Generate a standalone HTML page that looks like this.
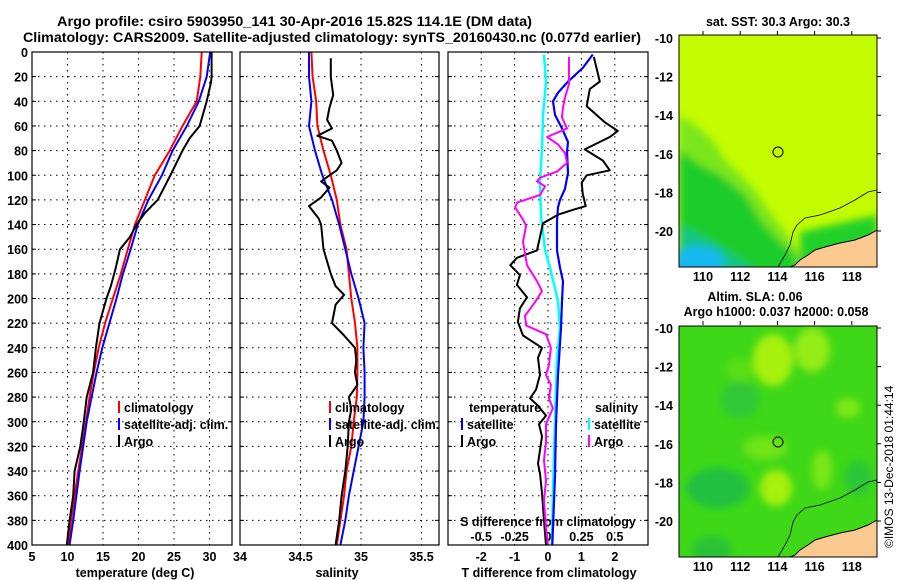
<!DOCTYPE html>
<html><head><meta charset="utf-8"><title>Argo profile</title>
<style>
html,body{margin:0;padding:0;background:#fff;}
svg{display:block;font-family:"Liberation Sans",Arial,sans-serif;font-weight:bold;}
</style></head>
<body>
<svg id="chart" width="900" height="580" viewBox="0 0 900 580" xmlns="http://www.w3.org/2000/svg">
<defs>
<filter id="blur3" x="-20%" y="-20%" width="140%" height="140%"><feGaussianBlur stdDeviation="4"/></filter>
<clipPath id="clipMap1"><rect x="679" y="35" width="198" height="232"/></clipPath>
<clipPath id="clipMap2"><rect x="679" y="326" width="198" height="231"/></clipPath>
</defs>
<text x="57" y="26" font-size="14" textLength="475" lengthAdjust="spacingAndGlyphs">Argo profile: csiro 5903950_141 30-Apr-2016 15.82S 114.1E (DM data)</text>
<text x="23" y="42" font-size="14" textLength="618" lengthAdjust="spacingAndGlyphs">Climatology: CARS2009. Satellite-adjusted climatology: synTS_20160430.nc (0.077d earlier)</text>
<g id="plots"></g>
<g id="maps">
  <!-- map 1: SST -->
  <g clip-path="url(#clipMap1)">
    <rect x="679" y="35" width="198" height="232" fill="#c4fc00"/>
    <g filter="url(#blur3)">
      <polygon points="679,115 695,125 712,140 725,160 738,172 755,190 772,215 790,238 805,262 820,280 679,280" fill="#7ae61a"/>
      <polygon points="679,150 700,165 720,175 745,195 760,220 778,240 795,255 800,280 679,280" fill="#1ccc2a"/>
      <polygon points="679,225 700,235 725,250 745,262 760,280 679,280" fill="#12c488"/>
      <ellipse cx="698" cy="262" rx="26" ry="16" fill="#18b8f0"/>
      <polygon points="800,232 877,215 877,245 800,265" fill="#22d02a"/>
    </g>
    <polygon points="877,230 868,235 855,240 840,243 825,247 815,250 808,255 800,260 795,265 790,267 877,267" fill="#fcc990" stroke="#000" stroke-width="1"/>
    <polyline points="877,190 868,192 855,200 840,208 820,215 805,218 797,225 793,232 790,245 785,255 778,267" fill="none" stroke="#000" stroke-width="0.8"/>
    <circle cx="778" cy="152" r="5" fill="none" stroke="#000" stroke-width="1"/>
  </g>
  <rect x="679" y="35" width="198" height="232" fill="none" stroke="#000" stroke-width="1"/>
  <text x="778" y="26" font-size="12.5" text-anchor="middle">sat. SST: 30.3 Argo: 30.3</text>
  <!-- map 2: SLA -->
  <g clip-path="url(#clipMap2)">
    <rect x="679" y="326" width="198" height="231" fill="#3ed818"/>
    <g filter="url(#blur3)">
      <ellipse cx="773" cy="360" rx="20" ry="26" fill="#a8f010"/>
      <ellipse cx="812" cy="350" rx="18" ry="22" fill="#94ec12"/>
      <ellipse cx="776" cy="488" rx="16" ry="18" fill="#a8f010"/>
      <ellipse cx="822" cy="470" rx="10" ry="20" fill="#7ae614"/>
      <ellipse cx="848" cy="408" rx="12" ry="10" fill="#80e814"/>
      <ellipse cx="765" cy="448" rx="22" ry="12" fill="#70e414"/>
      <ellipse cx="740" cy="370" rx="14" ry="12" fill="#58de16"/>
      <ellipse cx="718" cy="488" rx="32" ry="20" fill="#22c040"/>
      <ellipse cx="740" cy="400" rx="20" ry="18" fill="#30c838"/>
      <ellipse cx="858" cy="478" rx="14" ry="18" fill="#2cc636"/>
      <ellipse cx="712" cy="550" rx="20" ry="14" fill="#2cc236"/>
    </g>
    <polygon points="877,520 868,525 855,530 840,533 825,537 815,540 808,545 800,550 795,555 790,557 877,557" fill="#fcc990" stroke="#000" stroke-width="1"/>
    <polyline points="877,480 868,482 855,490 840,498 820,505 805,508 797,515 793,522 790,535 785,545 778,557" fill="none" stroke="#000" stroke-width="0.8"/>
    <circle cx="778" cy="442" r="5" fill="none" stroke="#000" stroke-width="1"/>
  </g>
  <rect x="679" y="326" width="198" height="231" fill="none" stroke="#000" stroke-width="1"/>
  <text x="755" y="301" font-size="12.5" text-anchor="middle">Altim. SLA: 0.06</text>
  <text x="776" y="316" font-size="12.5" text-anchor="middle">Argo h1000: 0.037 h2000: 0.058</text>
  <text transform="translate(893,548) rotate(-90)" font-size="12" font-weight="normal">©IMOS 13-Dec-2018 01:44:14</text>
</g>
</svg>
<script>
// ---------- data ----------
const depthTicks = [0,20,40,60,80,100,120,140,160,180,200,220,240,260,280,300,320,340,360,380,400];
const tempTicks = [5,10,15,20,25,30];
const salTicks = [34,34.5,35,35.5];
const tdiffTicks = [-2,-1,0,1,2];
const sdiffTickLabels = ['-0.5','-0.25','0','0.25','0.5'];
const sdiffTicks = [-0.5,-0.25,0,0.25,0.5];

const climDepth = [0,20,40,60,80,100,120,140,160,180,200,220,240,260,280,300,340,380,400];
const climTemp  = [28.9,28.7,28.2,26.2,24.4,22.3,20.9,19.5,18.5,17.5,16.4,15.3,14.4,13.7,13.1,12.6,11.5,10.5,10.1];
const satTemp   = [30.1,29.6,28.5,26.8,24.8,23.3,21.4,19.9,18.9,17.8,16.9,15.9,14.9,14.1,13.4,12.7,11.7,10.8,10.3];
const argoTDepth = [0,20,25,40,60,70,80,100,120,130,140,150,160,175,190,200,220,240,260,280,300,320,340,360,380,400];
const argoTemp   = [30.3,30.3,30.2,29.6,28.6,27.2,26.2,24.5,22.7,21,19.7,18.8,17.4,16.8,16.1,15.5,14.5,14,13.6,12.7,12.3,11.8,11,10.8,10.3,9.9];

const salDepth = [0,20,40,60,80,100,120,140,160,180,200,220,240,260,280,300,320,340,360,380,400];
const climSal  = [34.59,34.6,34.63,34.64,34.69,34.75,34.8,34.83,34.88,34.9,34.92,34.95,34.97,34.97,34.965,34.94,34.92,34.88,34.86,34.83,34.8];
const satSal   = [34.57,34.57,34.59,34.57,34.62,34.68,34.76,34.82,34.87,34.92,34.98,35.03,35.02,35.03,35.03,35.02,34.98,34.94,34.9,34.87,34.83];
const argoSDepth = [5,20,35,45,55,62,68,72,80,90,96,100,105,110,118,125,135,140,160,180,190,197,205,215,220,230,240,250,260,270,280,290,300,320,340,360,380,400];
const argoSal    = [34.75,34.75,34.77,34.74,34.72,34.76,34.64,34.76,34.8,34.84,34.8,34.74,34.67,34.74,34.67,34.57,34.65,34.67,34.69,34.75,34.79,34.86,34.79,34.77,34.76,34.86,34.95,34.96,34.95,34.97,34.9,34.92,34.9,34.89,34.87,34.84,34.82,34.79];

const tdSatDepth = [2,13,24,33,40,51,62,73,81,98,111,120,126,137,161,175,186,202,224,262,302,344,400];
const tdSat      = [1.34,1.04,0.6,0.3,0.15,0.21,0.42,0.6,0.57,0.6,0.51,0.36,0.3,0.27,0.27,0.36,0.45,0.42,0.39,0.3,0.24,0.21,0.13];
const tdArgoDepth = [4,24,30,44,57,64,69,79,88,96,100,106,115,125,128,132,139,150,161,167,173,181,189,199,208,219,230,240,248,262,274,281,287,295,302,312,334,342,358,380,400];
const tdArgo      = [1.37,1.55,1.25,1.16,1.7,2.09,1.85,1.1,1.64,1.85,1.16,1.01,1.04,1.13,0.75,0.3,-0.15,-0.24,-0.33,-0.93,-1.13,-0.84,-0.93,-0.63,-0.84,-0.9,-0.75,-0.18,-0.3,-0.24,-0.36,-0.54,-0.3,-0.06,-0.27,-0.18,-0.3,-0.24,-0.18,-0.12,-0.06];
const sdSatDepth = [2,24,51,78,106,134,161,175,202,224,248,302,358,400];
const sdSat      = [-0.03,-0.015,-0.037,-0.045,-0.06,-0.052,-0.022,0.015,0.075,0.09,0.067,0.052,0.037,0.03];
const sdArgoDepth = [4,26,37,45,53,62,69,75,82,90,97,102,105,109,116,122,126,136,141,154,173,186,194,203,214,222,229,240,254,262,270,281,289,302,317,331,348,364,386,400];
const sdArgo      = [0.157,0.157,0.127,0.112,0.104,0.142,-0.007,0.075,0.127,0.142,0.067,-0.06,-0.082,-0.022,-0.06,-0.23,-0.246,-0.187,-0.164,-0.187,-0.157,-0.082,-0.045,-0.097,-0.172,-0.164,-0.015,0.022,0.007,-0.015,0.022,0.007,0.037,-0.015,-0.015,-0.03,-0.015,-0.03,-0.015,0];

const latTicks = [-10,-12,-14,-16,-18,-20];
const lonTicks = [110,112,114,116,118];

// ---------- layout ----------
const NS = 'http://www.w3.org/2000/svg';
const top0 = 52, bot0 = 545;
const yD = d => top0 + d * (bot0 - top0) / 400;
const xT = t => 32 + (t - 5) * 7.1;
const xS = s => 240 + (s - 34) * 121;
const xTD = v => 548 + v * 33.4;
const xSD = v => 548 + v * 4 * 33.4;
const panels = [{x0:32,x1:232,name:'temperature-panel'},{x0:240,x1:439,name:'salinity-panel'},{x0:448,x1:648,name:'difference-panel'}];
const root = document.getElementById('plots');

function mk(tag, attrs, parent){
  const e = document.createElementNS(NS, tag);
  for (const k in attrs) e.setAttribute(k, attrs[k]);
  (parent||root).appendChild(e);
  return e;
}
function txt(str, x, y, size, anchor, name){
  const t = mk('text', {x:x, y:y, 'font-size':size, 'text-anchor':anchor||'start'});
  t.textContent = str;
  
  
  return t;
}
function line(x1,y1,x2,y2,opts){
  return mk('line', Object.assign({x1:x1,y1:y1,x2:x2,y2:y2,stroke:'#000','stroke-width':1}, opts||{}));
}

// panels, grid
panels.forEach((p, i) => {
  const g = mk('g', {});
  
  
  depthTicks.forEach(d => {
    if (d > 0 && d < 400) {
      const gl = line(p.x0, yD(d), p.x1, yD(d), {'stroke-dasharray':'1.5,4.5'});
      
      
    }
    line(p.x0, yD(d), p.x0+4, yD(d));
    line(p.x1-4, yD(d), p.x1, yD(d));
  });
});
tempTicks.forEach(t => {
  if (t > 5) {
    const gl = line(xT(t), top0, xT(t), bot0, {'stroke-dasharray':'1.5,4.5'});
    
    
  }
  txt(String(t), xT(t), 561, 12.5, 'middle', 'temp-tick-label');
});
salTicks.forEach(s => {
  if (s > 34) {
    const gl = line(xS(s), top0, xS(s), bot0, {'stroke-dasharray':'1.5,4.5'});
    
    
  }
  txt(String(s), xS(s), 561, 12.5, 'middle', 'sal-tick-label');
});
tdiffTicks.forEach(v => {
  const gl = line(xTD(v), top0, xTD(v), bot0, {'stroke-dasharray':'1.5,4.5'});
  
  
  txt(String(v), xTD(v), 561, 12.5, 'middle', 'tdiff-tick-label');
});
sdiffTicks.forEach((v, i) => {
  txt(sdiffTickLabels[i], xSD(v), 541, 12.5, 'middle', 'sdiff-tick-label');
});
txt('S difference from climatology', 548, 526, 12.5, 'middle', 'sdiff-axis-title');
depthTicks.forEach(d => txt(String(d), 28, yD(d)+5, 12.5, 'end', 'depth-tick-label'));

txt('temperature (deg C)', 135, 577, 12.5, 'middle', 'temp-axis-title');
txt('salinity', 337, 577, 12.5, 'middle', 'salinity-axis-title');
txt('T difference from climatology', 549, 577, 12.5, 'middle', 'tdiff-axis-title');

// series
function series(depths, vals, xf, color, w, name){
  const pts = depths.map((d, i) => xf(vals[i]).toFixed(1) + ',' + yD(d).toFixed(1)).join(' ');
  const pl = mk('polyline', {points:pts, fill:'none', stroke:color, 'stroke-width':w, 'stroke-linejoin':'round'});
  
  
}
series(climDepth, climTemp, xT, '#f00', 2, 'temp-climatology-line');
series(climDepth, satTemp, xT, '#00f', 2, 'temp-satellite-line');
series(argoTDepth, argoTemp, xT, '#000', 2, 'temp-argo-line');
series(salDepth, climSal, xS, '#f00', 2, 'sal-climatology-line');
series(salDepth, satSal, xS, '#00f', 2, 'sal-satellite-line');
series(argoSDepth, argoSal, xS, '#000', 2, 'sal-argo-line');
series(sdSatDepth, sdSat, xSD, '#0ff', 2.5, 'sdiff-satellite-line');
series(tdSatDepth, tdSat, xTD, '#00f', 2.2, 'tdiff-satellite-line');
series(tdArgoDepth, tdArgo, xTD, '#000', 2, 'tdiff-argo-line');
series(sdArgoDepth, sdArgo, xSD, '#f0f', 2, 'sdiff-argo-line');

// panel frames
panels.forEach(p => {
  const r = mk('rect', {x:p.x0, y:top0, width:p.x1-p.x0, height:bot0-top0, fill:'none', stroke:'#000', 'stroke-width':1.2});
  
  
});

// legends
function legend(x, y, color, label, name){
  const b = mk('rect', {x:x, y:y-11, width:2, height:12, fill:color});
  
  
  txt(label, x+6, y, 12.5, 'start', name);
}
legend(118, 412, '#f00', 'climatology', 'legend-climatology');
legend(118, 429, '#00f', 'satellite-adj. clim.', 'legend-satellite-adj');
legend(118, 446, '#000', 'Argo', 'legend-argo');
legend(329, 412, '#f00', 'climatology', 'legend-sal-climatology');
legend(329, 429, '#00f', 'satellite-adj. clim.', 'legend-sal-satellite-adj');
legend(329, 446, '#000', 'Argo', 'legend-sal-argo');
txt('temperature', 469, 412, 12.5, 'start', 'legend-temperature-heading');
legend(461, 429, '#00f', 'satellite', 'legend-tdiff-satellite');
legend(461, 446, '#000', 'Argo', 'legend-tdiff-argo');
txt('salinity', 595, 412, 12.5, 'start', 'legend-salinity-heading');
legend(588, 429, '#0ff', 'satellite', 'legend-sdiff-satellite');
legend(588, 446, '#f0f', 'Argo', 'legend-sdiff-argo');

// map axes
const maps = document.getElementById('maps');
const latY1 = v => 38 + (-10 - v) * 19.3;
const lonX = v => 703 + (v - 110) * 18.6;
[[0, 281],[290, 571]].forEach(([dy, ly], mi) => {
  latTicks.forEach(v => {
    const t = mk('text', {x:673, y:latY1(v)+dy+5, 'font-size':12.5, 'text-anchor':'end'}, maps);
    t.textContent = String(v);
    
    
    mk('line', {x1:877, y1:latY1(v)+dy, x2:881, y2:latY1(v)+dy, stroke:'#000'}, maps);
  });
  lonTicks.forEach(v => {
    const t = mk('text', {x:lonX(v), y:ly, 'font-size':12.5, 'text-anchor':'middle'}, maps);
    t.textContent = String(v);
    
    
    mk('line', {x1:lonX(v), y1:35+dy, x2:lonX(v), y2:31+dy, stroke:'#000'}, maps);
  });
});
</script>
</body></html>
